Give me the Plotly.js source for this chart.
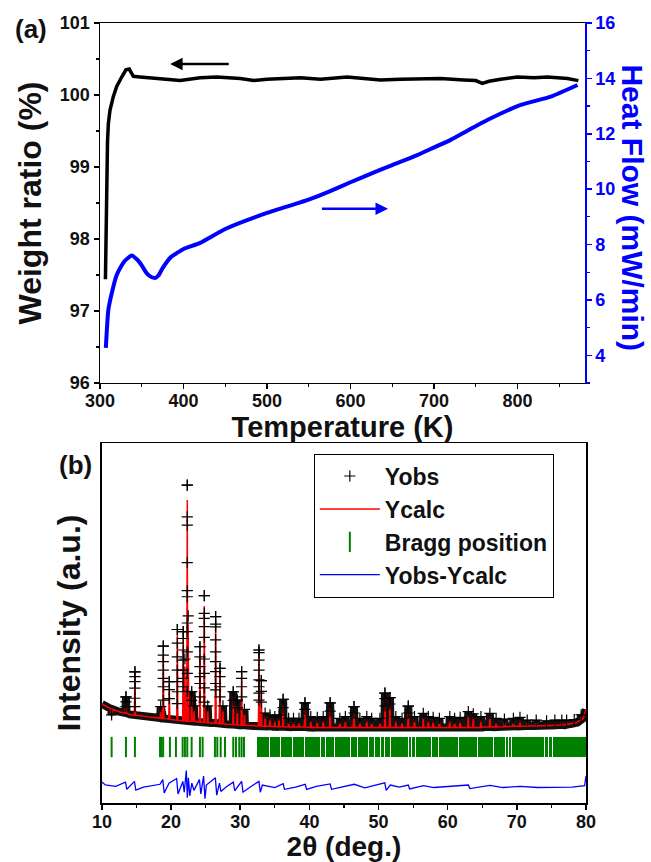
<!DOCTYPE html>
<html>
<head>
<meta charset="utf-8">
<script src="https://cdn.plot.ly/plotly-3.0.1.min.js"></script>
<style>html,body{margin:0;padding:0;background:#fff;}#chart{width:651px;height:862px;}</style>
</head>
<body>
<div id="chart"></div>
<script>
// ---------- Panel (a): TG / DSC ----------
const tgT = [306.5, 307, 307.5, 308, 309, 310, 312, 316, 320, 326, 331, 335, 340, 348, 365, 380, 396, 420, 440, 468, 484, 500, 520, 540, 564, 576, 596, 616, 636, 660, 684, 708, 736, 750, 758, 766, 780, 800, 820, 836, 860, 873];
const tgW = [97.44, 98.0, 98.6, 99.0, 99.35, 99.6, 99.79, 99.98, 100.12, 100.25, 100.35, 100.36, 100.26, 100.25, 100.23, 100.22, 100.2, 100.24, 100.25, 100.23, 100.2, 100.22, 100.23, 100.24, 100.22, 100.23, 100.25, 100.23, 100.21, 100.22, 100.22, 100.23, 100.21, 100.2, 100.16, 100.19, 100.22, 100.25, 100.24, 100.25, 100.23, 100.2];
const dscT = [307, 310, 315, 320, 325, 330, 338, 345, 350, 355, 360, 366, 370, 375, 385, 392, 400, 420, 450, 500, 550, 575, 600, 624, 650, 680, 696, 720, 740, 764, 804, 840, 872];
const dscHF = [4.27, 5.64, 6.36, 6.9, 7.2, 7.42, 7.6, 7.44, 7.25, 7.0, 6.85, 6.79, 6.88, 7.15, 7.55, 7.69, 7.84, 8.06, 8.56, 9.14, 9.62, 9.92, 10.25, 10.55, 10.87, 11.23, 11.45, 11.78, 12.11, 12.5, 13.04, 13.34, 13.76];

// ---------- Panel (b): XRD refinement ----------
const bgX = [10, 11, 12.6, 14, 16.9, 20, 24.5, 28, 31.9, 37.2, 45, 55, 65, 72, 76.8, 78.6, 79.6, 80];
const bgY = [27.5, 26.3, 25.3, 24.6, 23.9, 23.2, 22.4, 21.9, 21.4, 21.1, 21.0, 21.0, 21.1, 21.4, 21.7, 22.3, 23.5, 26.0];
const peakPos  = [11.4, 13.47, 14.77, 18.5, 18.87, 19.74, 20.9, 21.76, 22.0, 22.34, 22.47, 22.97, 23.3, 24.17, 24.8, 25.3, 26.44, 27.07, 27.5, 28.99, 29.57, 30.2, 30.6, 32.71, 33.05, 33.6, 34.3, 35.0, 35.6, 36.2, 37.0, 37.7, 38.5, 39.36, 40.2, 41.14, 42.0, 43.0, 44.4, 45.2, 46.45, 47.3, 48.3, 49.0, 50.2, 50.93, 51.65, 52.5, 53.4, 54.3, 55.2, 56.47, 57.2, 57.9, 58.8, 60.3, 61.0, 61.8, 62.98, 63.7, 64.8, 66.1, 67.0, 68.2, 69.5, 70.45, 71.5, 72.8, 74.3, 75.5, 76.5, 77.2, 78.3, 79.3];
const peakObs  = [24.5, 29.5, 36.4, 26.8, 43.6, 33.7, 48.2, 47.6, 40, 88.3, 52, 30.9, 27, 43.4, 57.6, 27, 51.8, 37.4, 27, 30.9, 28.6, 36.5, 26, 42.5, 34, 25, 24.5, 24, 24.5, 28.8, 23.5, 23.5, 23.5, 27.8, 24, 23.8, 24, 27.8, 23.5, 24, 26.8, 23.5, 24, 23.5, 23.5, 30.5, 29.3, 24, 23.5, 26.9, 24, 24.9, 24, 23.8, 23.5, 24, 23.5, 23.8, 25.4, 24.8, 24, 24.9, 23.5, 23.3, 23.5, 23.8, 23, 23, 22.8, 23, 23, 23, 23.2, 24.5];
const peakCalc = [24, 28, 35.3, 26, 42, 32.3, 46.7, 46.2, 38, 84.2, 49.9, 29.5, 26, 41.8, 54.7, 26, 50.4, 36.5, 26, 29.5, 27.5, 35.1, 25, 41.1, 32, 24, 23.5, 23, 23.5, 27.7, 22.5, 22.5, 22.5, 27, 23, 23, 23, 28.1, 22.5, 23, 26.2, 22.5, 23, 22.5, 22.5, 29, 28.1, 23, 22.5, 25.7, 23, 24, 23, 23, 22.5, 23, 22.5, 23, 24.5, 24, 23, 24, 22.5, 22.5, 22.5, 23, 22.3, 22.3, 22, 22.3, 22.5, 22.5, 22.7, 24];
const peakBase = [26.1, 25.0, 24.4, 23.6, 23.5, 23.3, 23.0, 22.8, 22.8, 22.7, 22.7, 22.7, 22.7, 22.5, 22.4, 22.3, 22.2, 22.0, 22.0, 21.8, 21.7, 21.6, 21.6, 21.4, 21.4, 21.3, 21.3, 21.2, 21.2, 21.2, 21.1, 21.1, 21.1, 21.1, 21.0, 21.0, 21.0, 21.0, 21.0, 21.0, 21.0, 21.0, 21.0, 21.0, 21.0, 21.0, 21.0, 21.0, 21.0, 21.0, 21.0, 21.0, 21.0, 21.0, 21.0, 21.0, 21.0, 21.0, 21.0, 21.0, 21.0, 21.1, 21.1, 21.2, 21.3, 21.3, 21.4, 21.4, 21.5, 21.6, 21.7, 21.8, 22.2, 23.2];
const obsPeakX = [13.47, 14.77, 18.87, 19.74, 20.9, 21.76, 22.34, 22.97, 24.17, 24.8, 26.44, 27.07, 28.99, 29.57, 30.2, 32.71, 33.05, 36.2, 39.36, 43.0, 46.45, 50.93, 51.65, 54.3];
const obsPeakY = [
  [29.5, 28.1, 26.8],
  [36.4, 35.1, 33.7, 31.9, 29.1, 26.8],
  [43.6, 41.1, 39.3, 36.9, 34.6, 32.3, 28.6],
  [33.7, 31.5, 29.0],
  [48.2, 44.4, 40.6, 36.9, 33.7, 30.9, 27.6],
  [47.6, 45.7, 42.5, 39.7, 36.9, 34.6, 32.3],
  [88.3, 79.5, 77.2, 66.8, 59.0, 57.3, 50.0, 47.6, 42.0, 36.0, 31.0],
  [30.9, 28.5],
  [43.4, 40.6, 37.9, 35.1, 33.2, 29.5],
  [57.6, 52.7, 51.3, 49.0, 46.0, 40.0, 36.0, 32.0, 28.0],
  [51.8, 49.7, 48.9, 45.3, 42.0, 39.3, 36.5, 33.2, 31.4],
  [37.4, 35.1, 32.3, 29.5],
  [30.9, 28.5],
  [28.6, 26.5],
  [36.5, 34.6, 32.3, 29.5],
  [42.5, 41.8, 39.7, 36.9, 34.2, 32.3, 30.5, 28.6],
  [34.0, 31.0, 28.0],
  [28.8, 26.5],
  [27.8, 26.0],
  [27.8, 25.5],
  [26.8, 25.0],
  [30.5, 29.0, 27.0],
  [29.3, 27.5],
  [26.9, 25.0]
];
const braggSingle = [11.4, 13.47, 14.77, 18.4, 18.6, 18.85, 19.83, 20.7, 21.67, 22.0, 22.34, 22.97, 24.17, 24.56, 26.34, 26.68, 27.17, 27.79, 28.99, 29.38, 29.86, 30.2, 30.54];
const braggBlockStart = [32.45, 34.25, 35.93, 37.62, 39.31, 41.72, 42.37, 43.64, 46.07, 46.97, 48.67, 49.42, 50.37, 50.87, 51.82, 54.37, 54.87, 55.37, 57.67, 58.67, 61.67, 62.57, 64.37, 66.67, 68.37, 68.87, 69.32, 74.07, 74.67, 75.27];
const braggBlockEnd   = [34.11, 35.79, 37.48, 39.17, 41.58, 42.23, 43.5, 45.93, 46.83, 48.53, 49.28, 50.23, 50.73, 51.68, 54.23, 54.73, 55.23, 57.53, 58.53, 61.53, 62.43, 64.23, 66.53, 68.23, 68.73, 69.18, 73.93, 74.53, 75.13, 80];
const diffX = [10, 10.5, 12, 13.4, 13.6, 14.7, 14.9, 16, 18.4, 18.8, 19.0, 19.7, 20.8, 21.0, 21.7, 21.9, 22.2, 22.35, 22.5, 22.7, 23.0, 23.3, 24.1, 24.3, 24.7, 24.9, 25.1, 26.4, 26.6, 27.0, 27.2, 28.0, 29.0, 29.2, 30.2, 30.4, 31.5, 32.7, 32.9, 33.2, 35, 36.2, 36.4, 38, 39.4, 39.6, 41, 43, 43.2, 45, 46.5, 48, 50.9, 51.1, 51.7, 53, 54.3, 54.5, 56.5, 58, 60, 63, 63.2, 65, 66.1, 68, 70.5, 73, 76, 78, 79.8, 80];
const diffY = [5.8, 5.0, 4.6, 5.8, 3.8, 6.0, 3.6, 4.4, 5.2, 6.5, 2.8, 5.5, 6.8, 2.5, 6.0, 3.0, 9.0, 1.5, 7.0, 2.0, 5.5, 3.5, 6.5, 2.5, 7.5, 1.2, 5.0, 7.0, 2.2, 5.5, 3.2, 4.5, 5.8, 3.4, 6.0, 3.0, 4.5, 6.0, 3.0, 5.0, 4.3, 5.4, 3.8, 4.4, 5.2, 3.8, 4.6, 5.3, 3.8, 4.6, 5.2, 4.2, 5.6, 3.5, 5.0, 4.4, 5.0, 3.9, 4.8, 4.3, 4.6, 5.0, 4.0, 4.5, 4.9, 4.3, 4.6, 4.3, 4.4, 4.4, 4.8, 7.5];

// ---------- build XRD profile polylines from the read values ----------
const HW = 0.08;
function profile(tops, onlySmall) {
  const pts = bgX.map((x, i) => [x, bgY[i]]);
  peakPos.forEach((p, i) => {
    const top = (onlySmall && tops[i] > 31) ? peakBase[i] : tops[i];
    pts.push([p - HW, peakBase[i]], [p, top], [p + HW, peakBase[i]]);
  });
  pts.sort((a, b) => a[0] - b[0]);
  return {x: pts.map(p => p[0]), y: pts.map(p => p[1])};
}
const calcProf = profile(peakCalc, false);
const bandProf = profile(peakObs, true);
const obsX = [], obsY = [];
obsPeakX.forEach((x, i) => obsPeakY[i].forEach(y => { obsX.push(x); obsY.push(y); }));
peakPos.forEach((x, i) => { obsX.push(x); obsY.push(peakObs[i]); });

const FONT = 'Arial, "Liberation Sans", sans-serif';
const tickFont = {family: FONT, size: 18, color: '#111', weight: 'bold'};
const BLUE = '#0000ff', GREEN = '#008000';

const traces = [
  {x: tgT, y: tgW, xaxis: 'x', yaxis: 'y', mode: 'lines', line: {color: '#000', width: 3.5}, showlegend: false, name: 'Weight ratio'},
  {x: dscT, y: dscHF, xaxis: 'x', yaxis: 'y2', mode: 'lines', line: {color: BLUE, width: 4, shape: 'spline', smoothing: 0.5}, showlegend: false, name: 'Heat Flow'},
  {x: bandProf.x, y: bandProf.y, xaxis: 'x2', yaxis: 'y3', mode: 'lines', line: {color: '#111', width: 8}, showlegend: false, name: 'Yobs band', hoverinfo: 'skip'},
  {x: calcProf.x, y: calcProf.y, xaxis: 'x2', yaxis: 'y3', mode: 'lines', line: {color: '#ff0000', width: 1.5}, name: 'Ycalc', legendrank: 2},
  {x: obsX, y: obsY, xaxis: 'x2', yaxis: 'y3', mode: 'markers', marker: {symbol: 'cross-thin-open', size: 8, line: {color: '#000', width: 1.2}, color: '#000'}, name: 'Yobs', legendrank: 1},
  {type: 'bar', x: braggBlockStart.map((s, i) => (s + braggBlockEnd[i]) / 2), y: braggBlockStart.map(() => 5.5), width: braggBlockStart.map((s, i) => braggBlockEnd[i] - s), base: 12.8, xaxis: 'x2', yaxis: 'y3', marker: {color: GREEN, line: {width: 0}}, showlegend: false, name: 'Bragg blocks', hoverinfo: 'skip'},
  {x: braggSingle, y: braggSingle.map(() => 15.55), xaxis: 'x2', yaxis: 'y3', mode: 'markers', marker: {symbol: 'line-ns-open', size: 14.5, color: GREEN, line: {color: GREEN, width: 2}}, name: 'Bragg position', legendrank: 3},
  {x: diffX, y: diffY, xaxis: 'x2', yaxis: 'y3', mode: 'lines', line: {color: BLUE, width: 1.3}, name: 'Yobs-Ycalc', legendrank: 4}
];

const axBase = {showgrid: false, zeroline: false, showline: true, linewidth: 1.5, linecolor: '#000', ticks: 'outside', ticklen: 5, tickwidth: 1.5, tickcolor: '#000', tickfont: tickFont};

const layout = {
  width: 651, height: 862,
  margin: {l: 100, r: 65, t: 23, b: 59},
  paper_bgcolor: '#fff', plot_bgcolor: '#fff',
  showlegend: true,
  bargap: 0,
  xaxis: Object.assign({}, axBase, {domain: [0, 0.998], anchor: 'y', range: [300, 881], tick0: 300, dtick: 100, mirror: true, ticklabelstandoff: -4,
    minor: {ticks: 'outside', dtick: 50, ticklen: 3, tickwidth: 1.2, tickcolor: '#000'},
    title: {text: 'Temperature (K)', font: {family: FONT, size: 29, color: '#111', weight: 'bold'}, standoff: 0}}),
  yaxis: Object.assign({}, axBase, {domain: [0.5385, 1], anchor: 'x', range: [96, 101], dtick: 1,
    minor: {ticks: 'outside', dtick: 0.5, ticklen: 3, tickwidth: 1.2, tickcolor: '#000'},
    title: {text: 'Weight ratio (%)', font: {family: FONT, size: 32, color: '#111', weight: 'bold'}, standoff: 8}}),
  yaxis2: Object.assign({}, axBase, {overlaying: 'y', side: 'right', anchor: 'x', range: [3, 16], dtick: 2,
    linecolor: BLUE, tickcolor: BLUE, tickfont: Object.assign({}, tickFont, {color: BLUE}),
    minor: {ticks: 'outside', dtick: 1, ticklen: 3, tickwidth: 1.2, tickcolor: BLUE}}),
  xaxis2: Object.assign({}, axBase, {domain: [0.004, 1], anchor: 'y3', range: [10, 80], dtick: 10, mirror: true, ticklabelstandoff: -3,
    minor: {ticks: 'outside', dtick: 5, ticklen: 3, tickwidth: 1.2, tickcolor: '#000'},
    title: {text: '2θ (deg.)', font: {family: FONT, size: 28, color: '#111', weight: 'bold'}, standoff: 2}}),
  yaxis3: Object.assign({}, axBase, {domain: [0, 0.4615], anchor: 'x2', range: [0, 100], showticklabels: false, ticks: '', mirror: true,
    title: {text: 'Intensity (a.u.)', font: {family: FONT, size: 32, color: '#111', weight: 'bold'}, standoff: 10}}),
  legend: {x: 0.44, y: 0.448, xanchor: 'left', yanchor: 'top', bgcolor: '#fff', bordercolor: '#000', borderwidth: 1,
    font: {family: FONT, size: 23, color: '#111', weight: 'bold'}, itemwidth: 60, traceorder: 'normal'},
  annotations: [
    {xref: 'paper', yref: 'paper', x: -0.142, y: 0.992, xanchor: 'center', yanchor: 'middle', text: '(a)', showarrow: false, font: {family: FONT, size: 26, color: '#111', weight: 'bold'}},
    {xref: 'paper', yref: 'paper', x: -0.051, y: 0.433, xanchor: 'center', yanchor: 'middle', text: '(b)', showarrow: false, font: {family: FONT, size: 26, color: '#111', weight: 'bold'}},
    {xref: 'paper', yref: 'paper', x: 1.0955, y: 0.763, xanchor: 'center', yanchor: 'middle', text: 'Heat Flow (mW/min)', textangle: 90, showarrow: false, font: {family: FONT, size: 30, color: BLUE, weight: 'bold'}},
    {xref: 'x', yref: 'y', x: 384, y: 100.43, axref: 'x', ayref: 'y', ax: 456, ay: 100.43, text: '', showarrow: true, arrowhead: 2, arrowsize: 1, arrowwidth: 2.5, arrowcolor: '#000'},
    {xref: 'x', yref: 'y2', x: 645, y: 9.29, axref: 'x', ayref: 'y2', ax: 564, ay: 9.29, text: '', showarrow: true, arrowhead: 2, arrowsize: 1, arrowwidth: 2.5, arrowcolor: BLUE}
  ]
};

Plotly.newPlot('chart', traces, layout, {displayModeBar: false, staticPlot: true});
</script>
</body>
</html>
